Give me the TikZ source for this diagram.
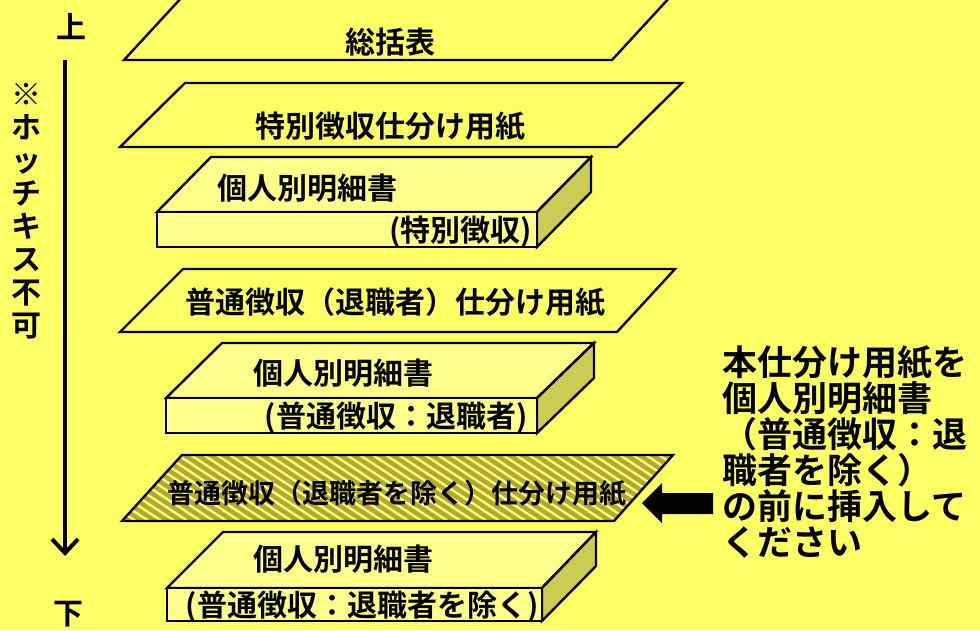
\documentclass[tikz,border=0pt]{standalone}
\usepackage{fontspec}
\setmainfont{Noto Sans CJK JP}[BoldFont={Noto Sans CJK JP Bold}]
\usetikzlibrary{arrows.meta}
\definecolor{bg}{RGB}{255,255,102}
\definecolor{face}{RGB}{255,255,140}
\definecolor{side}{RGB}{204,204,85}
\definecolor{stripe}{RGB}{180,170,40}
\begin{document}
\begin{tikzpicture}[x=1pt,y=-1pt,
  outline/.style={draw=black,line width=2.4pt,line join=miter},
  paper/.style={outline,fill=face},
  sidef/.style={outline,fill=side},
  lbl/.style={inner sep=0pt,font=\bfseries\fontsize{30}{32}\selectfont},
  hlbl/.style={inner sep=0pt,font=\bfseries\fontsize{27}{29}\selectfont},
  note/.style={inner sep=0pt,align=left,font=\bfseries\fontsize{35}{36}\selectfont},
  vlbl/.style={inner sep=0pt,align=center,font=\bfseries\fontsize{30}{33}\selectfont},
  flow/.style={line width=4pt,-{Straight Barb[length=14pt,width=26pt]}},
  stripeline/.style={draw=stripe,line width=4.5pt}]
\useasboundingbox (0,0) rectangle (980,630);
\fill[bg] (0,0) rectangle (980,630);
\clip (0,0) rectangle (980,630);

% sheet 1
\draw[outline] (124,60) -- (183,-4) -- (671,-4) -- (612,60) -- cycle;
\node[lbl] (t1) at (390,42) {総括表};
% sheet 2
\draw[outline] (120,147) -- (185,83) -- (682,83) -- (617,147) -- cycle;
\node[lbl] (t2) at (390,127) {特別徴収仕分け用紙};
% slab 1
\draw[paper] (157,212) -- (211,157) -- (591,157) -- (537,212) -- cycle;
\draw[sidef] (537,212) -- (591,157) -- (591,192) -- (537,247) -- cycle;
\draw[paper] (157,212) rectangle (537,247);
\node[lbl] (s1a) at (307,188) {個人別明細書};
\node[lbl,anchor=east] (s1b) at (532,232) {(特別徴収)};
% sheet 3
\draw[outline] (120,332) -- (183,269) -- (675,269) -- (617,332) -- cycle;
\node[lbl] (t3) at (395,302) {普通徴収（退職者）仕分け用紙};
% slab 2
\draw[paper] (166,398) -- (222,343) -- (594,343) -- (537,398) -- cycle;
\draw[sidef] (537,398) -- (594,343) -- (594,378) -- (537,433) -- cycle;
\draw[paper] (166,398) rectangle (537,433);
\node[lbl] (s2a) at (343,373) {個人別明細書};
\node[lbl] (s2b) at (396,418) {(普通徴収：退職者)};
% hatched sheet
\fill[face] (122,521) -- (182,455) -- (673,455) -- (614,521) -- cycle;
\begin{scope}
  \clip (122,521) -- (182,455) -- (673,455) -- (614,521) -- cycle;
  \foreach \x in {0,13,...,680} \draw[stripeline] (\x,445) -- (\x+130,530);
\end{scope}
\draw[outline] (122,521) -- (182,455) -- (673,455) -- (614,521) -- cycle;
\node[hlbl] (t4) at (397,493) {普通徴収（退職者を除く）仕分け用紙};
% slab 3
\draw[paper] (167,588) -- (223,532) -- (596,532) -- (542,588) -- cycle;
\draw[sidef] (542,588) -- (596,532) -- (596,566) -- (542,621) -- cycle;
\draw[paper] (167,588) rectangle (542,621);
\node[lbl] (s3a) at (343,559) {個人別明細書};
\node[lbl] (s3b) at (362,607) {(普通徴収：退職者を除く)};

% left: order arrow
\node[lbl] (up) at (71,27) {上};
\node[lbl] (down) at (68,614) {下};
\coordinate (a1) at (65,60);
\coordinate (a2) at (65,556);
\draw[flow] (a1) -- (a2);
\node[vlbl] (vt) at (27,211) {※\\ホ\\ッ\\チ\\キ\\ス\\不\\可};

% right: note and block arrow
\node[note,anchor=north west] (nt) at (722,346) {本仕分け用紙を\\個人別明細書\\（普通徴収：退\\職者を除く）\\の前に挿入して\\ください};
\fill[black] (713,493) -- (662,493) -- (662,483) -- (642,503) -- (662,523) -- (662,514) -- (713,514) -- cycle;
\end{tikzpicture}
\end{document}
